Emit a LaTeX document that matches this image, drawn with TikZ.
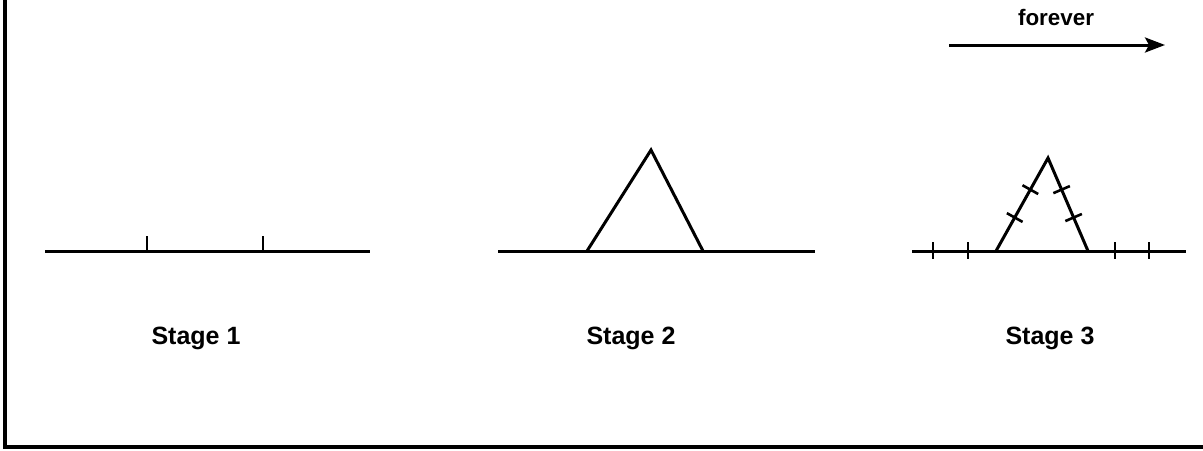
\documentclass[tikz,border=0pt]{standalone}
\usepackage{fontspec}
\setmainfont{Liberation Sans}
\usetikzlibrary{arrows.meta,calc}
\begin{document}
\begin{tikzpicture}[x=0.5pt,y=-0.5pt,
  ln/.style={line width=1.5pt},
  tk/.style={line width=1.3pt},
  lbl/.style={font=\bfseries\fontsize{12.5}{14}\selectfont, inner sep=0pt},
  flbl/.style={font=\bfseries\fontsize{11.2}{13}\selectfont, inner sep=0pt},
  frm/.style={line width=1.6pt}]
\useasboundingbox (0,0) rectangle (1203,450);
% frame
\coordinate (ftop) at (5,0);
\coordinate (fcorner) at (5,447);
\coordinate (fright) at (1203,447);
\draw[frm] (ftop) -- (fcorner) -- (fright);
% Stage 1
\coordinate (a1) at (45,251);
\coordinate (b1) at (370,251);
\coordinate (t1a) at (147,251);
\coordinate (t1b) at (263,251);
\draw[ln] (a1) -- (b1);
\draw[tk] (t1a) -- ++(0,-15);
\draw[tk] (t1b) -- ++(0,-15);
\node[lbl] (s1) at (196,338) {Stage 1};
% Stage 2
\coordinate (a2) at (498,251);
\coordinate (b2) at (815,251);
\coordinate (l2) at (587,251);
\coordinate (p2) at (651,150);
\coordinate (r2) at (703,251);
\draw[ln] (a2) -- (b2);
\draw[ln,line join=miter] (l2) -- (p2) -- (r2);
\node[lbl] (s2) at (631,338) {Stage 2};
% Stage 3
\coordinate (a3) at (912,251);
\coordinate (b3) at (1186,251);
\coordinate (l3) at (996,251);
\coordinate (p3) at (1048,158);
\coordinate (r3) at (1088,251);
\draw[ln] (a3) -- (b3);
\draw[ln,line join=miter] (l3) -- (p3) -- (r3);
\foreach \x in {933,968,1115,1149}{
  \draw[tk] (\x,242) -- (\x,259);
}
% ticks on sides (perpendicular)
\foreach \f in {0.36,0.66}{
  \draw[tk] ($(l3)!\f!(p3)$) -- ($(l3)!\f!(p3)!4.5pt!90:(p3)$);
  \draw[tk] ($(l3)!\f!(p3)$) -- ($(l3)!\f!(p3)!4.5pt!-90:(p3)$);
  \draw[tk] ($(r3)!\f!(p3)$) -- ($(r3)!\f!(p3)!4.5pt!90:(p3)$);
  \draw[tk] ($(r3)!\f!(p3)$) -- ($(r3)!\f!(p3)!4.5pt!-90:(p3)$);
}
\node[lbl] (s3) at (1050,338) {Stage 3};
% forever arrow
\node[flbl] (fv) at (1056,17) {forever};
\coordinate (fa) at (949,45);
\coordinate (fb) at (1165,45);
\draw[ln,-{Stealth[length=10pt,width=7.5pt,inset=2pt]}] (fa) -- (fb);
\end{tikzpicture}
\end{document}
